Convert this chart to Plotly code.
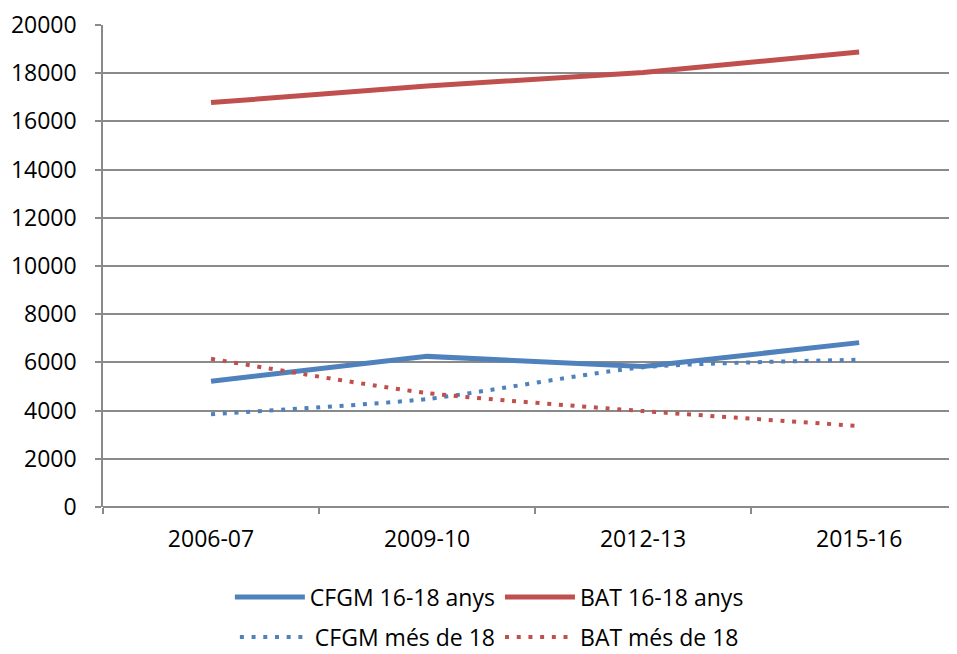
import plotly.graph_objects as go

categories = ["2006-07", "2009-10", "2012-13", "2015-16"]
cfgm_16_18 = [5220, 6250, 5830, 6820]
bat_16_18 = [16780, 17470, 18030, 18880]
cfgm_mes_18 = [3850, 4480, 5800, 6110]
bat_mes_18 = [6150, 4730, 3980, 3360]
y_ticks = list(range(0, 20001, 2000))

BLUE = "#4F81BD"
RED = "#C0504D"
GRID = "#8A8A8A"
FONT = "Open Sans"
FS = 23

fig = go.Figure()
fig.add_trace(go.Scatter(x=categories, y=cfgm_16_18, name="CFGM 16-18 anys", mode="lines",
                         line=dict(color=BLUE, width=5), legend="legend"))
fig.add_trace(go.Scatter(x=categories, y=bat_16_18, name="BAT 16-18 anys", mode="lines",
                         line=dict(color=RED, width=5), legend="legend"))
fig.add_trace(go.Scatter(x=categories, y=cfgm_mes_18, name="CFGM més de 18", mode="lines",
                         line=dict(color=BLUE, width=4, dash="4px,7.7px", shape="spline", smoothing=0.6),
                         legend="legend2"))
fig.add_trace(go.Scatter(x=categories, y=bat_mes_18, name="BAT més de 18", mode="lines",
                         line=dict(color=RED, width=4, dash="4px,7.7px", shape="spline", smoothing=0.6),
                         legend="legend2"))

legend_common = dict(orientation="h", xanchor="center", yanchor="middle",
                     xref="container", yref="container",
                     font=dict(family=FONT, size=FS, color="#000000"),
                     itemwidth=70, bgcolor="rgba(0,0,0,0)", traceorder="normal",
                     borderwidth=0)

fig.update_layout(
    width=957, height=654,
    margin=dict(l=95, r=0, t=17, b=155, autoexpand=False),
    paper_bgcolor="white", plot_bgcolor="white",
    font=dict(family=FONT, size=FS, color="#000000"),
    showlegend=True,
    legend=dict(x=0.503, y=0.0994, **legend_common),
    legend2=dict(x=0.503, y=0.0380, **legend_common),
    xaxis=dict(type="category", range=[-0.5, 3.49], tickson="boundaries",
               ticks="outside", ticklen=6, tickcolor=GRID, tickwidth=1.5,
               showgrid=False, showline=False, zeroline=False, automargin=False,
               ticklabelstandoff=16, tickfont=dict(family=FONT, size=FS)),
    yaxis=dict(range=[0, 20000], tickvals=y_ticks, ticktext=[str(v) for v in y_ticks],
               showgrid=True, gridcolor=GRID, gridwidth=1.5,
               showline=True, linecolor=GRID, linewidth=1.5,
               ticks="outside", ticklen=6, tickcolor=GRID, tickwidth=1.5,
               zeroline=True, zerolinecolor=GRID, zerolinewidth=1.5, automargin=False,
               ticklabelstandoff=14, tickfont=dict(family=FONT, size=FS)),
)

fig.write_html("out.html")
